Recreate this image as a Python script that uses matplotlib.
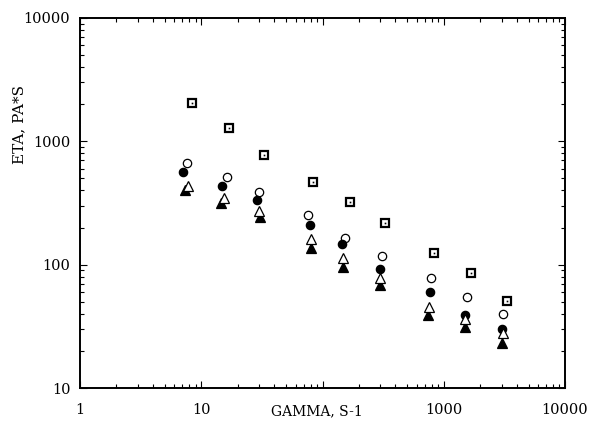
import matplotlib
matplotlib.use("Agg")
import matplotlib.pyplot as plt
from matplotlib.ticker import LogLocator, FixedLocator, FixedFormatter, NullFormatter

# shear rate groups, one list per marker type
gamma_sq = [8.4, 16.9, 33.1, 83.5, 167, 328, 826, 1668, 3342]
eta_sq = [2056, 1283, 780, 472, 320, 219, 125, 85.1, 50.5]

gamma_oc = [7.7, 16.2, 29.8, 75.9, 153, 308, 785, 1563, 3063]
eta_oc = [671, 511, 391, 253, 164, 118, 77.5, 55.0, 39.6]

gamma_fc = [7.1, 14.9, 28.7, 78.8, 145, 298, 771, 1506, 3040]
eta_fc = [561, 434, 334, 211, 147, 92.8, 59.7, 39.3, 30.1]

gamma_ot = [7.8, 15.5, 30.1, 79.9, 147, 300, 760, 1489, 3063]
eta_ot = [434, 345, 272, 162, 113, 78.4, 45.6, 36.1, 27.8]

gamma_ft = [7.3, 14.5, 30.7, 80.7, 147, 300, 738, 1506, 3006]
eta_ft = [403, 315, 244, 136, 95, 68.0, 39.1, 31.4, 23.0]

xticks = [1, 10, 100, 1000, 10000]
xticklabels = ["1", "10", "", "1000", "10000"]
yticks = [10, 100, 1000, 10000]
yticklabels = ["10", "100", "1000", "10000"]

plt.rcParams['font.family'] = ['DejaVu Serif']

fig = plt.figure(figsize=(5.96, 4.21), dpi=100)
ax = fig.add_axes([80/596, 1-388/421, (565-80)/596, (388-18)/421])

# dotted squares
ax.plot(gamma_sq, eta_sq, ls="none", marker="s", ms=5.5, mfc="white", mec="black", mew=1.6)
ax.plot(gamma_sq, eta_sq, ls="none", marker="s", ms=1.2, mfc="black", mec="black", mew=0)
ax.plot(gamma_oc, eta_oc, ls="none", marker="o", ms=6, mfc="white", mec="black", mew=0.9)
ax.plot(gamma_fc, eta_fc, ls="none", marker="o", ms=6, mfc="black", mec="black", mew=0.9)
ax.plot(gamma_ft, eta_ft, ls="none", marker="^", ms=7, mfc="black", mec="black", mew=0.9)
ax.plot(gamma_ot, eta_ot, ls="none", marker="^", ms=7, mfc="white", mec="black", mew=0.9)

ax.set_xscale("log")
ax.set_yscale("log")
ax.set_xlim(1, 10000)
ax.set_ylim(10, 10000)

ax.xaxis.set_major_locator(FixedLocator(xticks))
ax.xaxis.set_major_formatter(FixedFormatter(xticklabels))
ax.yaxis.set_major_locator(FixedLocator(yticks))
ax.yaxis.set_major_formatter(FixedFormatter(yticklabels))
ax.xaxis.set_minor_locator(LogLocator(base=10, subs=range(2, 10)))
ax.yaxis.set_minor_locator(LogLocator(base=10, subs=range(2, 10)))
ax.xaxis.set_minor_formatter(NullFormatter())
ax.yaxis.set_minor_formatter(NullFormatter())

ax.tick_params(which="both", direction="in", top=True, right=True, labelsize=10.5, width=0.8)
ax.tick_params(which="major", length=5)
ax.tick_params(axis="x", which="major", pad=11)
ax.tick_params(axis="y", which="major", pad=7)
ax.tick_params(which="minor", length=3)
for s in ax.spines.values():
    s.set_linewidth(1.4)

# axis titles sit where the reference put them
fig.text(19/596, 1-125/421, "ETA, PA*S", fontsize=11, rotation=90, ha="center", va="center")
fig.text(317/596, 1-411/421, "GAMMA, S-1", fontsize=10, ha="center", va="center")

fig.savefig("out.png", dpi=100)
